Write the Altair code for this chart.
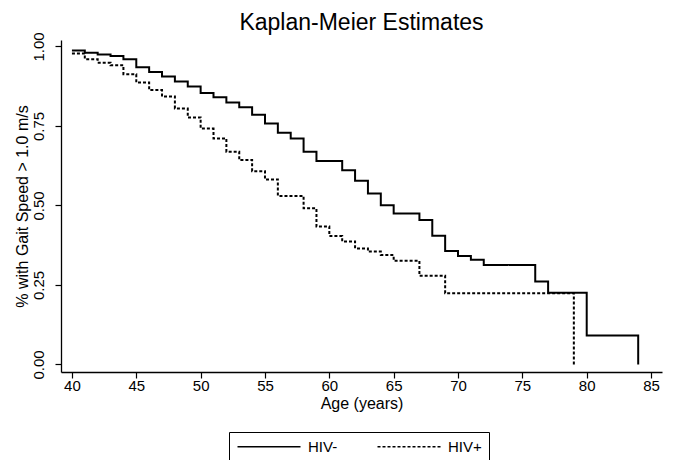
import altair as alt
import pandas as pd

# HIV- (solid) Kaplan-Meier step points: age at which the level starts, survival level
hivneg_age = [40, 41, 42, 43, 44, 45, 46, 47, 48, 49, 50, 51, 52, 53, 54, 55, 56, 57, 58, 59,
              61, 62, 63, 64, 65, 67, 68, 69, 70, 71, 72, 76, 77, 80, 84]
hivneg_surv = [0.987, 0.980, 0.975, 0.970, 0.960, 0.935, 0.920, 0.906, 0.890, 0.874, 0.854,
               0.840, 0.824, 0.809, 0.785, 0.758, 0.729, 0.711, 0.669, 0.640,
               0.611, 0.578, 0.538, 0.501, 0.475, 0.454, 0.405, 0.357, 0.341, 0.329, 0.313,
               0.261, 0.226, 0.091, 0.0]

# HIV+ (dotted)
hivpos_age = [40, 41, 42, 43, 44, 45, 46, 47, 48, 49, 50, 51, 52, 53, 54, 55, 56, 58, 59, 60,
              61, 62, 63, 64, 65, 67, 69, 79]
hivpos_surv = [0.978, 0.960, 0.949, 0.941, 0.913, 0.887, 0.863, 0.843, 0.805, 0.777, 0.742,
               0.711, 0.669, 0.643, 0.608, 0.582, 0.530, 0.491, 0.434, 0.404,
               0.387, 0.365, 0.355, 0.344, 0.326, 0.279, 0.224, 0.0]

groups = ["HIV-", "HIV+"]
x_ticks = [40, 45, 50, 55, 60, 65, 70, 75, 80, 85]
y_ticks = [0.0, 0.25, 0.5, 0.75, 1.0]

rows = []
for a, s in zip(hivneg_age, hivneg_surv):
    rows.append({"age": a, "surv": s, "group": groups[0]})
for a, s in zip(hivpos_age, hivpos_surv):
    rows.append({"age": a, "surv": s, "group": groups[1]})
df = pd.DataFrame(rows)

FONT = "Liberation Sans"

chart = alt.Chart(df).mark_line(
    interpolate="step-after", strokeWidth=2, color="black"
).encode(
    x=alt.X("age:Q",
            scale=alt.Scale(domain=[39.15, 85.85], nice=False, zero=False),
            axis=alt.Axis(values=x_ticks, title="Age (years)", format="d",
                          labelPadding=0, titlePadding=2)),
    y=alt.Y("surv:Q",
            scale=alt.Scale(domain=[-0.0236, 1.0204], nice=False, zero=False),
            axis=alt.Axis(values=y_ticks, format=".2f",
                          title="% with Gait Speed > 1.0 m/s",
                          labelAngle=270, labelAlign="center", labelBaseline="bottom",
                          labelPadding=9, titlePadding=1)),
    strokeDash=alt.StrokeDash(
        "group:N",
        scale=alt.Scale(domain=groups, range=[[1, 0], [3, 2]]),
        legend=alt.Legend(title=None, orient="none", legendX=168, legendY=392,
                          direction="horizontal",
                          symbolType="M-1,0H9.5",
                          symbolSize=144, symbolStrokeWidth=1.6,
                          symbolStrokeColor="black",
                          labelFontSize=15, labelFont=FONT, labelColor="black",
                          labelOffset=57, columnPadding=36,
                          strokeColor="black", padding=7)),
).properties(
    width=601,
    height=332,
    title=alt.TitleParams("Kaplan-Meier Estimates", fontSize=23, font=FONT,
                          fontWeight="normal", anchor="middle", color="black",
                          offset=-3),
    autosize=alt.AutoSizeParams(type="none"),
    padding={"left": 53, "top": 32, "right": 3, "bottom": 95},
).configure_view(
    stroke=None
).configure_axis(
    grid=False,
    domainColor="black", domainWidth=1.3,
    tickColor="black", tickWidth=1.2, tickSize=6,
    labelFont=FONT, labelFontSize=15, labelColor="black",
    titleFont=FONT, titleFontSize=16, titleColor="black", titleFontWeight="normal",
)

chart.save("out.html", embed_options={"renderer": "svg", "actions": False})
